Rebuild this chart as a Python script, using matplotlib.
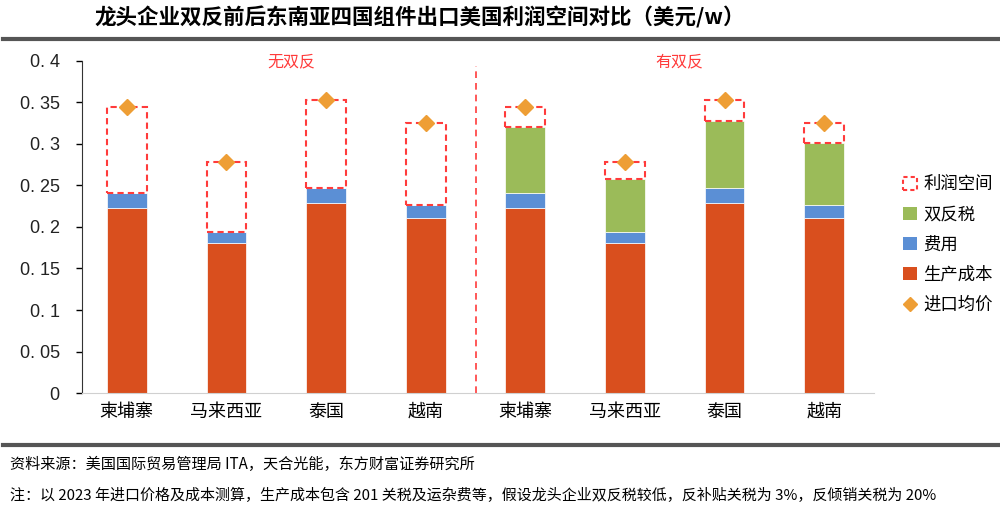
import matplotlib.pyplot as plt
from matplotlib.patches import Patch
from matplotlib.lines import Line2D
import numpy as np

plt.rcParams['font.family'] = ['Noto Sans CJK SC', 'DejaVu Sans']

# data (USD/W)
countries = ['柬埔寨', '马来西亚', '泰国', '越南']
prod_cost = [0.223, 0.181, 0.229, 0.211]
fee = [0.018, 0.013, 0.018, 0.016]
duty = [0.079, 0.064, 0.081, 0.074]
import_price = [0.345, 0.278, 0.353, 0.325]
yticks = [0, 0.05, 0.1, 0.15, 0.2, 0.25, 0.3, 0.35, 0.4]
ytick_labels = ['0', '0. 05', '0. 1', '0. 15', '0. 2', '0. 25', '0. 3', '0. 35', '0. 4']

c_prod = '#D94F1E'
c_fee = '#5B8FD5'
c_duty = '#9BBB59'
c_price = '#EE9E35'
c_red = '#FF3B3B'

fig = plt.figure(figsize=(10, 5.12), dpi=100)
ax = fig.add_axes([0.082, 0.2324, 0.792, 0.6485])

w = 0.4
prod = np.array(prod_cost * 2)
fees = np.array(fee * 2)
duties = np.array([0] * 4 + duty)
price = np.array(import_price * 2)
x = np.arange(8)

ax.bar(x, prod, w, color=c_prod, edgecolor='white', linewidth=0.5)
ax.bar(x, fees, w, bottom=prod, color=c_fee, edgecolor='white', linewidth=0.5)
ax.bar(x, duties, w, bottom=prod + fees, color=c_duty, edgecolor='white', linewidth=0.5)
base = prod + fees + duties
ax.bar(x, price - base, w, bottom=base, facecolor='none', edgecolor=c_red,
       linewidth=1.5, linestyle=(0, (3, 2)))
ax.plot(x, price, linestyle='none', marker='D', markersize=8, color=c_price, zorder=5)

ax.axvline(3.5, ymin=0, ymax=0.985, color=c_red, linestyle=(0, (4, 3)), linewidth=1.2)
ax.text(1.65, 0.3985, '无双反', color=c_red, fontsize=11.5, ha='center', va='center')
ax.text(5.55, 0.3985, '有双反', color=c_red, fontsize=11.5, ha='center', va='center')

ax.set_xlim(-0.45, 7.5)
ax.set_ylim(0, 0.4)
ax.set_yticks(yticks)
ax.set_yticklabels(ytick_labels, fontsize=13, family=['Liberation Sans', 'DejaVu Sans'], color='#222222')
ax.set_xticks(x)
ax.set_xticklabels(countries * 2, fontsize=13)
ax.tick_params(axis='x', length=0, pad=7)
ax.tick_params(axis='y', length=4, width=1, pad=12)
for s in ['top', 'right']:
    ax.spines[s].set_visible(False)
ax.spines['left'].set_color('#333333')
ax.spines['bottom'].set_color('#D0D0D0')

handles = [
    Patch(facecolor='white', edgecolor=c_red, linestyle=(0, (2, 1.5)), linewidth=1.5, label='利润空间'),
    Patch(facecolor=c_duty, label='双反税'),
    Patch(facecolor=c_fee, label='费用'),
    Patch(facecolor=c_prod, label='生产成本'),
    Line2D([], [], linestyle='none', marker='D', markersize=7, color=c_price, label='进口均价'),
]
fig.legend(handles=handles, loc='upper left', bbox_to_anchor=(0.887, 0.688), frameon=False,
           fontsize=12.5, handlelength=0.8, handleheight=0.8, handletextpad=0.4, labelspacing=0.7)

fig.text(0.42, 0.965, '龙头企业双反前后东南亚四国组件出口美国利润空间对比（美元/w）',
         fontsize=15.5, fontweight='bold', ha='center', va='center')
fig.add_artist(Line2D([0.003, 1.0], [0.923, 0.923], color='#555555', linewidth=3))
fig.add_artist(Line2D([0.003, 1.0], [0.131, 0.131], color='#555555', linewidth=3))
fig.text(0.01, 0.092, '资料来源：美国国际贸易管理局 ITA，天合光能，东方财富证券研究所', fontsize=10.9, va='center')
fig.text(0.01, 0.033, '注：以 2023 年进口价格及成本测算，生产成本包含 201 关税及运杂费等，假设龙头企业双反税较低，反补贴关税为 3%，反倾销关税为 20%',
         fontsize=10.8, va='center')

fig.savefig('out.png', dpi=100)
